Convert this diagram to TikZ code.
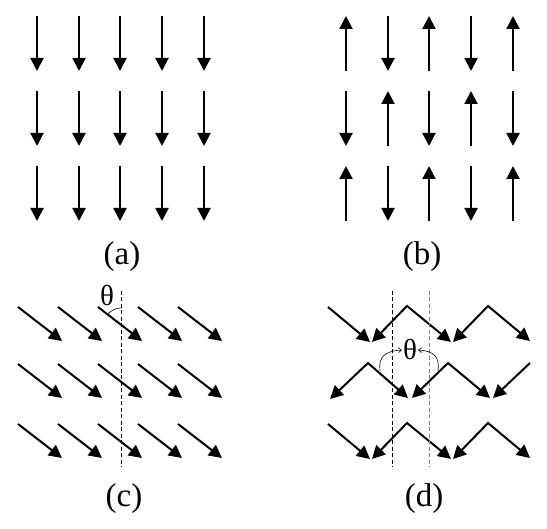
\documentclass[tikz,border=0pt]{standalone}
\usepackage{fontspec}
\setmainfont{Liberation Serif}
\usetikzlibrary{arrows.meta}
\begin{document}
\begin{tikzpicture}[x=1pt,y=-1pt,
  spin/.style={line width=2pt,-{Triangle[length=13pt,width=13pt]}},
  spintwo/.style={line width=2pt,{Triangle[length=13pt,width=13pt]}-{Triangle[length=13pt,width=13pt]}},
  guide/.style={line width=0.8pt,dash pattern=on 4pt off 2.5pt},
  anglearc/.style={line width=0.6pt},
  anglearrow/.style={line width=0.6pt,-{Straight Barb[length=3pt,width=5pt]}},
  caption/.style={font=\fontsize{33}{36}\selectfont,inner sep=0pt},
  greek/.style={font=\fontsize{29}{31}\selectfont,inner sep=0pt}]
\useasboundingbox (0,0) rectangle (547,529);
% (a)
\foreach \x in {37,79,120,162,204}
  \foreach \y in {16,91,166}
    \draw[spin] (\x,\y) -- (\x,\y+55);
% (b)
\foreach \x [count=\i] in {346,388,429,471,513}
  \foreach \y [count=\j] in {16,91,166} {
    \pgfmathtruncatemacro\s{mod(\i+\j,2)}
    \ifnum\s=0
      \draw[spin] (\x,\y+55) -- (\x,\y);
    \else
      \draw[spin] (\x,\y) -- (\x,\y+55);
    \fi
  }
% (c)
\foreach \x in {18,58,98,138,178}
  \foreach \y in {307,364,424}
    \draw[spin] (\x,\y) -- (\x+44,\y+34);
\draw[guide] (121,291) -- (121,467);
\draw[anglearc] (121,308) arc[start angle=270,end angle=218,radius=17];
\node[greek] (thc) at (107,296) {θ};
% (d)
\foreach \dy in {0,117} {
  \draw[spin] (328,307+\dy) -- (370,342+\dy);
  \draw[spintwo] (372,342+\dy) -- (407,306+\dy) -- (451,342+\dy);
  \draw[spintwo] (453,342+\dy) -- (488,306+\dy) -- (530,341+\dy);
}
\draw[spintwo] (330,399) -- (368,363) -- (408,398);
\draw[spintwo] (412,398) -- (448,363) -- (490,398);
\draw[spin] (530,363) -- (493,398);
\draw[guide] (392,291) -- (392,467);
\draw[guide,gray] (429,291) -- (429,467);
\node[greek] (thd) at (410,350) {θ};
\draw[anglearrow] (380,371) .. controls (378,357) and (385,351) .. ([xshift=-1pt]thd.west);
\draw[anglearrow] (438,371) .. controls (440,357) and (434,351) .. ([xshift=1pt]thd.east);
% captions
\node[caption] (la) at (122,257) {(a)};
\node[caption] (lb) at (422,257) {(b)};
\node[caption] (lc) at (124,499) {(c)};
\node[caption] (ld) at (424,499) {(d)};
\end{tikzpicture}
\end{document}
